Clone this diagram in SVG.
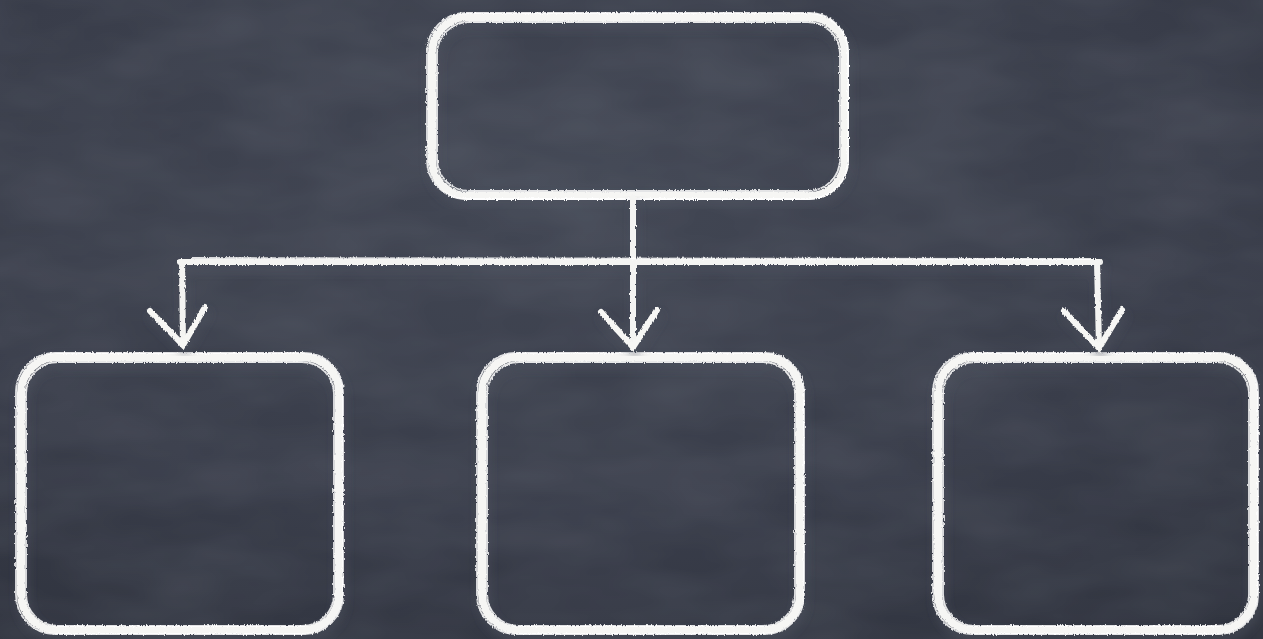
<svg xmlns="http://www.w3.org/2000/svg" width="1263" height="639" viewBox="0 0 1263 639">
  <defs>
    <radialGradient id="bg" cx="0.45" cy="0.3" r="0.85">
      <stop offset="0" stop-color="#424754"/>
      <stop offset="0.6" stop-color="#393d4a"/>
      <stop offset="1" stop-color="#2f333e"/>
    </radialGradient>
    <filter id="grain" x="0" y="0" width="100%" height="100%">
      <feTurbulence type="fractalNoise" baseFrequency="0.008 0.02" numOctaves="3" seed="4" result="n"/>
      <feColorMatrix in="n" type="matrix" values="0 0 0 0 0.75  0 0 0 0 0.78  0 0 0 0 0.85  0 0 0 0.12 -0.03" result="c"/>
      <feComposite in="c" in2="SourceGraphic" operator="in"/>
    </filter>
    <filter id="chalk" x="-5%" y="-5%" width="110%" height="110%">
      <feTurbulence type="fractalNoise" baseFrequency="0.9 0.25" numOctaves="2" seed="7" result="t"/>
      <feDisplacementMap in="SourceGraphic" in2="t" scale="3" xChannelSelector="R" yChannelSelector="G" result="d"/>
      <feGaussianBlur in="SourceAlpha" stdDeviation="5" result="sb"/>
      <feOffset in="sb" dx="2" dy="6" result="so"/>
      <feColorMatrix in="so" type="matrix" values="0 0 0 0 0.08  0 0 0 0 0.09  0 0 0 0 0.12  0 0 0 0.55 0" result="sh"/>
      <feMerge>
        <feMergeNode in="sh"/>
        <feMergeNode in="d"/>
      </feMerge>
    </filter>
    <style>
      .box { fill: none; stroke: #f6f6f4; stroke-width: 8; }
      .thin { fill: none; stroke: #ffffff; stroke-width: 1.8; opacity: 0.85; }
      .line { fill: none; stroke: #f4f4f2; stroke-width: 6; stroke-linecap: round; }
      .arm { fill: none; stroke: #f7f7f5; stroke-width: 6; stroke-linecap: round; }
    </style>
  </defs>

  <rect width="1263" height="639" fill="url(#bg)"/>
  <rect width="1263" height="639" fill="#ffffff" filter="url(#grain)"/>

  <g id="node-top" filter="url(#chalk)">
    <rect class="box" x="432" y="17" width="413" height="179" rx="36"/>
    <rect class="thin" x="427" y="13" width="421" height="186" rx="39"/>
    <rect class="thin" x="437" y="22" width="403" height="169" rx="32"/>
  </g>

  <g id="node-left" filter="url(#chalk)">
    <rect class="box" x="21" y="357" width="318" height="273" rx="36"/>
    <rect class="thin" x="16" y="353" width="327" height="281" rx="39"/>
    <rect class="thin" x="26" y="362" width="308" height="264" rx="32"/>
  </g>

  <g id="node-middle" filter="url(#chalk)">
    <rect class="box" x="482" y="357" width="318" height="273" rx="36"/>
    <rect class="thin" x="477" y="353" width="327" height="281" rx="39"/>
    <rect class="thin" x="487" y="362" width="308" height="264" rx="32"/>
  </g>

  <g id="node-right" filter="url(#chalk)">
    <rect class="box" x="938" y="357" width="316" height="273" rx="36"/>
    <rect class="thin" x="933" y="353" width="325" height="281" rx="39"/>
    <rect class="thin" x="943" y="362" width="306" height="264" rx="32"/>
  </g>

  <g id="connectors" filter="url(#chalk)">
    <path class="line" d="M633 198 L633 347"/>
    <path class="line" d="M180 262 L1100 262"/>
    <path class="thin" d="M190 258 L1090 259"/>
    <path class="line" d="M182 262 L183 344"/>
    <path class="line" d="M1097 262 L1099 346"/>
    <path class="arm" d="M150 311 L183 345 L205 307"/>
    <path class="arm" d="M601 312 L633 347 L657 310"/>
    <path class="arm" d="M1064 311 L1099 348 L1122 310"/>
  </g>
</svg>
